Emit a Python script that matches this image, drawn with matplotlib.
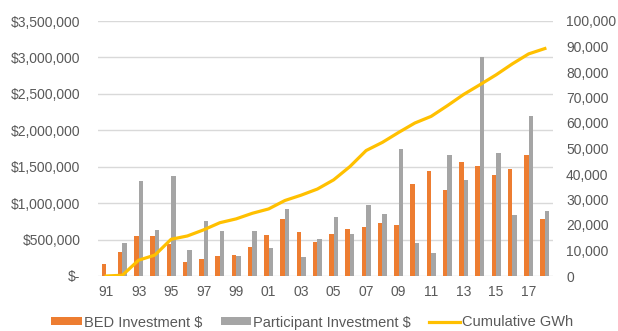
import numpy as np
from matplotlib import pyplot as plt
from matplotlib.ticker import FuncFormatter

years = ['91', '92', '93', '94', '95', '96', '97', '98', '99', '00',
         '01', '02', '03', '04', '05', '06', '07', '08', '09', '10',
         '11', '12', '13', '14', '15', '16', '17', '18']
bed = [165000, 325000, 545000, 545000, 439000, 188000, 237000, 270000, 288000, 394000,
       562000, 778000, 599000, 462000, 572000, 645000, 672000, 731000, 695000, 1266000,
       1436000, 1184000, 1564000, 1505000, 1386000, 1464000, 1656000, 786000]
participant = [0, 453000, 1307000, 631000, 1372000, 357000, 759000, 617000, 270000, 617000,
               388000, 915000, 256000, 512000, 814000, 576000, 978000, 846000, 1746000, 453000,
               316000, 1664000, 1317000, 3000000, 1687000, 833000, 2191000, 896000]
gwh = [0, 300, 6200, 8200, 14400, 15700, 18100, 20900, 22400, 24600,
       26300, 29600, 31700, 34100, 37700, 42900, 49200, 52400, 56300, 60000,
       62600, 66800, 71200, 75000, 78900, 83200, 87100, 89200]

plt.rcParams['font.family'] = ['Liberation Sans', 'DejaVu Sans']
txt = '#595959'

fig = plt.figure(figsize=(6.18, 3.31), dpi=100)
ax = fig.add_axes([98/618, 1-276/331, 455/618, 255/331])
x = np.arange(len(years))
w = 0.27
b1 = ax.bar(x - 0.14, bed, w, color='#ED7D31', zorder=2, label='BED Investment $')
b2 = ax.bar(x + 0.14, participant, w, color='#A5A5A5', zorder=2, label='Participant Investment $')
ax.set_xlim(-0.5, len(years) - 0.5)
ax.set_ylim(0, 3500000)
ax.set_yticks(np.arange(0, 3500001, 500000))
ax.yaxis.set_major_formatter(FuncFormatter(lambda v, p: '$-' if v == 0 else '${:,.0f}'.format(v)))
ax.grid(axis='y', color='#D9D9D9', lw=1, zorder=0)
ax.set_axisbelow(True)
ax.set_xticks(x[::2])
ax.set_xticklabels(years[::2])
ax.tick_params(length=0, colors=txt, labelsize=10)
ax.tick_params(axis='y', pad=12.5)
ax.tick_params(axis='x', pad=6.5)
for s in ax.spines.values():
    s.set_visible(False)

ax2 = ax.twinx()
l1, = ax2.plot(x, gwh, color='#FFC000', lw=2.3, zorder=3, label='Cumulative GWh')
ax2.set_ylim(0, 100000)
ax2.set_yticks(np.arange(0, 100001, 10000))
ax2.yaxis.set_major_formatter(FuncFormatter(lambda v, p: '{:,.0f}'.format(v)))
ax2.tick_params(length=0, colors=txt, labelsize=10, pad=9.4)
for s in ax2.spines.values():
    s.set_visible(False)

fig.legend([b1, b2, l1], ['BED Investment $', 'Participant Investment $', 'Cumulative GWh'],
           loc='center left', bbox_to_anchor=(41/618, 1-322.5/331), ncol=3, frameon=False,
           fontsize=10.5, labelcolor=txt, handlelength=2.1, handleheight=0.5,
           handletextpad=0.15, columnspacing=1.25, borderpad=0.2)

plt.savefig('out.png', dpi=100)
